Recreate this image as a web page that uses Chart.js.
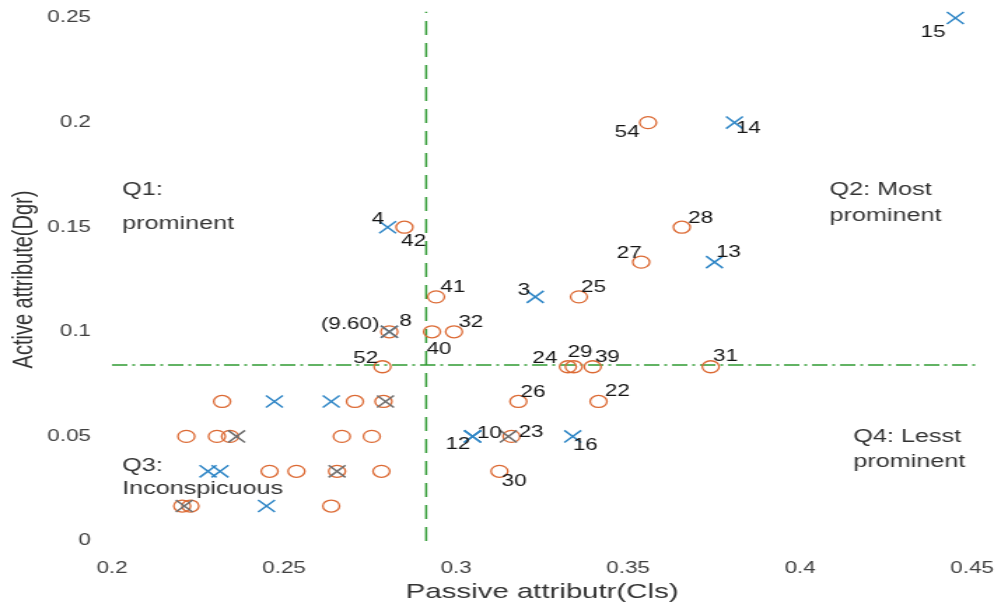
<!DOCTYPE html>
<html>
<head>
<meta charset="utf-8">
<script src="https://cdn.jsdelivr.net/npm/chart.js@4.4.1/dist/chart.umd.min.js"></script>
<style>
  html, body { margin: 0; padding: 0; background: #fff; overflow: hidden; }
  /* the figure is laid out narrow and widened horizontally */
  #wrap { width: 720px; height: 605px; transform: scaleX(1.4); transform-origin: 0 0; }
  canvas { display: block; }
</style>
</head>
<body>
<div id="wrap"><canvas id="c" width="720" height="605"></canvas></div>
<script>
// Node ids and coordinates (Cls = closeness, Dgr = degree)
const circleIds = ['54','28','42','27','41','25','8','40','32','52','24','29','39','31','26','22','23','30',
                   '','','','','','','','','','','','','','',''];
const circleX   = [0.3558,0.3656,0.2850,0.3538,0.2942,0.3357,0.2806,0.2930,0.2994,0.2786,0.3325,0.3342,0.3397,0.3740,0.3181,0.3414,0.3161,0.3126,
                   0.2320,0.2706,0.2789,0.2216,0.2305,0.2343,0.2668,0.2755,0.2458,0.2536,0.2654,0.2783,0.2204,0.2228,0.2637];
const circleY   = [0.2,0.15,0.15,0.1333,0.1167,0.1167,0.1,0.1,0.1,0.0833,0.0833,0.0833,0.0833,0.0833,0.0667,0.0667,0.05,0.0333,
                   0.0667,0.0667,0.0667,0.05,0.05,0.05,0.05,0.05,0.0333,0.0333,0.0333,0.0333,0.0167,0.0167,0.0167];

const crossIds = ['15','14','4','13','3','','12','10','16','','','','',''];
const crossX   = [0.4451,0.3809,0.2801,0.3751,0.3230,0.2806,0.3048,0.3048,0.3339,0.2472,0.2637,0.2279,0.2314,0.2449];
const crossY   = [0.25,0.2,0.15,0.1333,0.1167,0.1,0.05,0.05,0.05,0.0667,0.0667,0.0333,0.0333,0.0167];

const greyIds = ['(9.60)','','','','',''];
const greyX   = [0.2806,0.2795,0.2362,0.2654,0.2210,0.3152];
const greyY   = [0.1,0.0667,0.05,0.0333,0.0167,0.05];

// Quadrant thresholds
const cutCls = 0.2913;
const cutDgr = 0.0841;

// Axis ticks
const xTicks = [0.2, 0.25, 0.3, 0.35, 0.4, 0.45];
const yTicks = [0, 0.05, 0.1, 0.15, 0.2, 0.25];

// Quadrant captions: [text, x, y]
const quadrantText = [
  ['Q1:', 0.2029, 0.1678], ['prominent', 0.2029, 0.1515],
  ['Q2: Most', 0.4085, 0.1678], ['prominent', 0.4085, 0.1554],
  ['Q3:', 0.2029, 0.0359], ['Inconspicuous', 0.2029, 0.0249],
  ['Q4: Lesst', 0.4154, 0.0497], ['prominent', 0.4154, 0.0378]
];

// Label placement relative to each node (canvas px)
const labelOffset = {
  '15':[-16,15], '54':[-15,10], '14':[10,6], '28':[13.5,-9], '27':[-8.5,-9], '13':[10,-10],
  '4':[-7,-8], '42':[6.5,14], '41':[12,-9], '3':[-8,-6], '25':[10.5,-9], '(9.60)':[-28,-7],
  '8':[11.5,-10], '32':[12,-9], '40':[5,18], '52':[-12,-8], '24':[-16.5,-8], '29':[4.5,-14],
  '39':[10.5,-9], '31':[10.5,-10], '26':[10.5,-9], '22':[13.5,-10], '12':[-10.5,8], '10':[12,-3],
  '23':[14,-4], '16':[9,9], '30':[10.5,10]
};

const FONT = "'Liberation Sans', Arial, Helvetica, sans-serif";
const pts = (xs, ys) => xs.map((x, i) => ({ x, y: ys[i] }));
const fmt = v => String(+(+v).toFixed(2));

const groups = [
  { ids: circleIds, xs: circleX, ys: circleY },
  { ids: crossIds,  xs: crossX,  ys: crossY },
  { ids: greyIds,   xs: greyX,   ys: greyY }
];

const annotate = {
  id: 'annotate',
  afterDatasetsDraw(chart) {
    const { ctx, scales: { x, y } } = chart;
    ctx.save();
    ctx.textBaseline = 'middle';
    ctx.font = '16px ' + FONT;
    ctx.fillStyle = '#151515';
    ctx.textAlign = 'center';
    groups.forEach(g => g.ids.forEach((id, i) => {
      if (!id) return;
      const off = labelOffset[id] || [10, -9];
      ctx.fillText(id, x.getPixelForValue(g.xs[i]) + off[0], y.getPixelForValue(g.ys[i]) + off[1]);
    }));
    ctx.textAlign = 'left';
    ctx.font = '18px ' + FONT;
    ctx.fillStyle = '#333';
    quadrantText.forEach(([t, qx, qy]) => ctx.fillText(t, x.getPixelForValue(qx), y.getPixelForValue(qy)));
    ctx.restore();
  }
};

new Chart(document.getElementById('c'), {
  type: 'scatter',
  data: {
    datasets: [
      { data: pts([cutCls, cutCls], [0, 0.253]), showLine: true, pointRadius: 0,
        borderColor: '#2f9a32', borderWidth: 1.5, borderDash: [14, 8], clip: false, order: 5 },
      { data: pts([0.2, 0.4514], [cutDgr, cutDgr]), showLine: true, pointRadius: 0,
        borderColor: '#2f9a32', borderWidth: 1.5, borderDash: [11, 3.5, 2, 3.5], clip: false, order: 5 },
      { data: pts(circleX, circleY), pointStyle: 'circle', pointRadius: 6,
        borderColor: '#dc6a34', backgroundColor: 'rgba(0,0,0,0)', pointBorderWidth: 1.3, clip: false, order: 3 },
      { data: pts(crossX, crossY), pointStyle: 'crossRot', pointRadius: 8.5,
        borderColor: '#2f86c6', pointBorderWidth: 1.5, clip: false, order: 2 },
      { data: pts(greyX, greyY), pointStyle: 'crossRot', pointRadius: 8.5,
        borderColor: '#6e6e6e', pointBorderWidth: 1.5, clip: false, order: 1 }
    ]
  },
  options: {
    responsive: false,
    animation: false,
    events: [],
    layout: { padding: { top: 18, right: 20, left: 0, bottom: 0 } },
    plugins: { legend: { display: false }, tooltip: { enabled: false } },
    scales: {
      x: {
        type: 'linear', min: xTicks[0], max: xTicks[xTicks.length - 1],
        grid: { display: false }, border: { display: false },
        afterBuildTicks: s => { s.ticks = xTicks.map(v => ({ value: v })); },
        afterFit: s => { s.height = 64; },
        ticks: { callback: fmt, color: '#404040', padding: 10, maxRotation: 0, autoSkip: false,
                 font: { family: FONT, size: 16 } },
        title: { display: true, text: 'Passive attributr(Cls)', color: '#333',
                 padding: { top: 0, bottom: 0 }, font: { family: FONT, size: 21 } }
      },
      y: {
        type: 'linear', min: yTicks[0], max: yTicks[yTicks.length - 1],
        grid: { display: false }, border: { display: false },
        afterBuildTicks: s => { s.ticks = yTicks.map(v => ({ value: v })); },
        afterFit: s => { s.width = 80; },
        ticks: { callback: fmt, color: '#404040', padding: 7, autoSkip: false,
                 font: { family: FONT, size: 16 } },
        title: { display: true, text: 'Active attribute(Dgr)', color: '#333',
                 padding: { top: 5, bottom: 0 }, font: { family: FONT, size: 20 } }
      }
    }
  },
  plugins: [annotate]
});
</script>
</body>
</html>
